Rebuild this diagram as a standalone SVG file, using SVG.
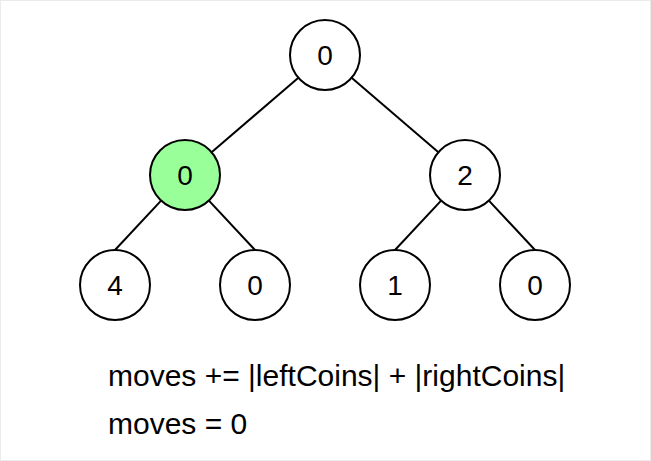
<svg xmlns="http://www.w3.org/2000/svg" width="651" height="461" viewBox="0 0 651 461">
  <style>
    .node circle { fill: #ffffff; stroke: #000000; stroke-width: 2; }
    .node.active circle { fill: #99ff99; }
    .node text { font-family: "Liberation Sans", Arial, Helvetica, sans-serif; font-size: 28px; fill: #000000; text-anchor: middle; }
    .edges line { stroke: #000000; stroke-width: 2; }
    .note { font-family: "Liberation Sans", Arial, Helvetica, sans-serif; font-size: 30px; fill: #000000; }
  </style>
  <rect x="0.5" y="0.5" width="650" height="460" fill="#ffffff" stroke="#ebebeb" stroke-width="1"/>

  <!-- tree edges -->
  <g id="edges" class="edges">
    <line x1="298.4" y1="77.8" x2="211.6" y2="152.2"/>
    <line x1="351.6" y1="77.8" x2="438.4" y2="152.2"/>
    <line x1="161.1" y1="200.6" x2="115" y2="250"/>
    <line x1="208.9" y1="200.6" x2="255" y2="250"/>
    <line x1="441.1" y1="200.6" x2="395" y2="250"/>
    <line x1="488.9" y1="200.6" x2="535" y2="250"/>
  </g>

  <g id="root" class="node">
    <circle cx="325" cy="55" r="35"/>
    <text x="325" y="65">0</text>
  </g>
  <g id="left" class="node active">
    <circle cx="185" cy="175" r="35"/>
    <text x="185" y="185">0</text>
  </g>
  <g id="right" class="node">
    <circle cx="465" cy="175" r="35"/>
    <text x="465" y="185">2</text>
  </g>
  <g id="left-left" class="node">
    <circle cx="115" cy="285" r="35"/>
    <text x="115" y="295">4</text>
  </g>
  <g id="left-right" class="node">
    <circle cx="255" cy="285" r="35"/>
    <text x="255" y="295">0</text>
  </g>
  <g id="right-left" class="node">
    <circle cx="395" cy="285" r="35"/>
    <text x="395" y="295">1</text>
  </g>
  <g id="right-right" class="node">
    <circle cx="535" cy="285" r="35"/>
    <text x="535" y="295">0</text>
  </g>

  <g id="notes">
    <text class="note" x="108" y="386">moves += |leftCoins| + |rightCoins|</text>
    <text class="note" x="108" y="434">moves = 0</text>
  </g>
</svg>
